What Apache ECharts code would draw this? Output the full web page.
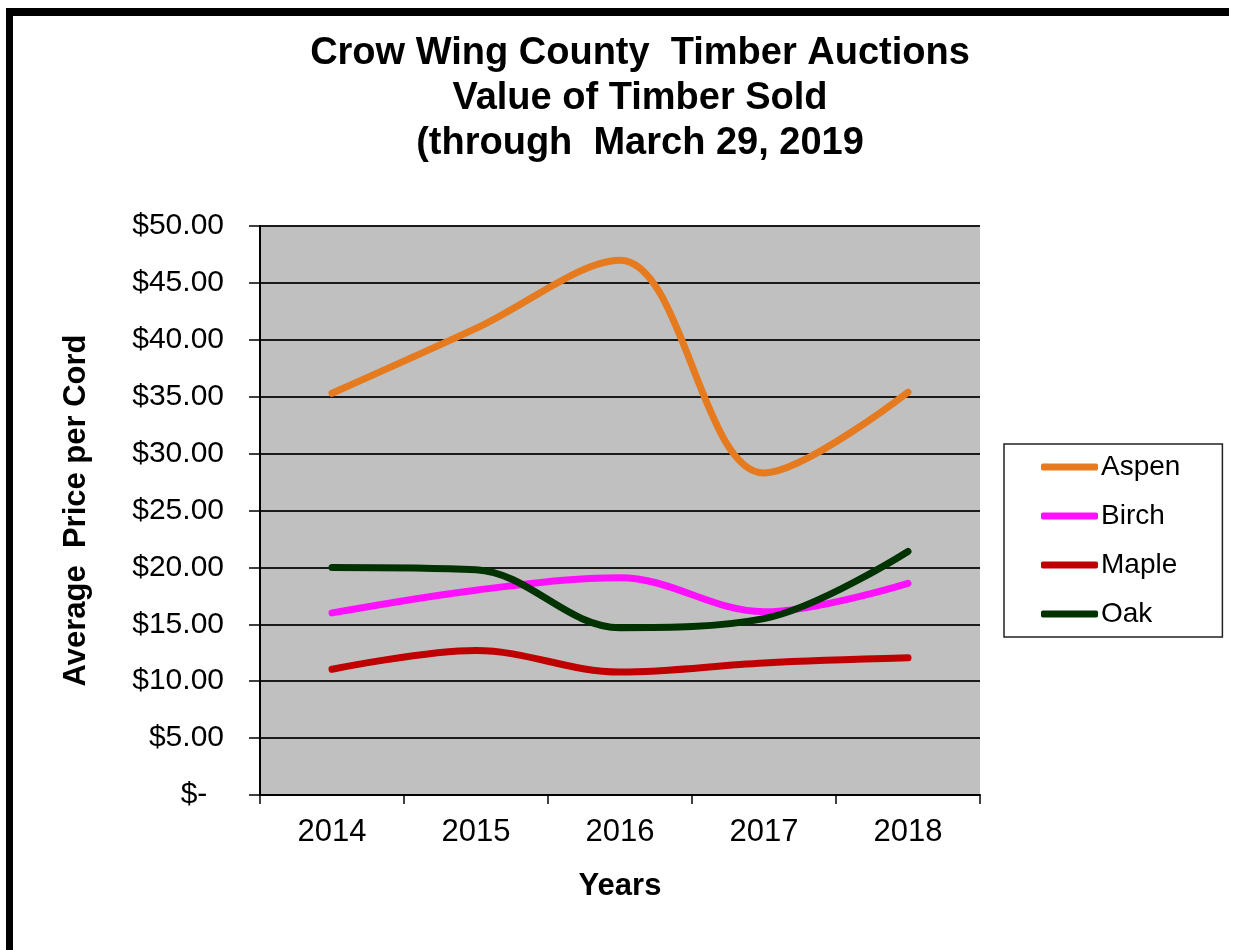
<!DOCTYPE html>
<html>
<head>
<meta charset="utf-8">
<script src="https://cdn.jsdelivr.net/npm/echarts@6/dist/echarts.min.js"></script>
<style>
  html, body { margin: 0; padding: 0; background: #ffffff; }
  #wrap { position: relative; width: 1233px; height: 950px; overflow: hidden; }
  #main { position: absolute; left: 0; top: 0; width: 1233px; height: 950px; }
  #frame { position: absolute; left: 6px; top: 8px; width: 1223px; height: 950px;
           border-top: 8px solid #000; border-left: 7px solid #000; pointer-events: none; box-sizing: border-box; }
</style>
</head>
<body>
<div id="wrap">
  <div id="main"></div>
  <div id="frame"></div>
</div>
<script>
const titleLines = ['Crow Wing County  Timber Auctions', 'Value of Timber Sold', '(through  March 29, 2019'];
const years = ['2014', '2015', '2016', '2017', '2018'];
const seriesNames = ['Aspen', 'Birch', 'Maple', 'Oak'];
const aspen = [35.3, 41.0, 47.0, 28.3, 35.4];
const birch = [16.0, 18.0, 19.1, 16.1, 18.6];
const maple = [11.05, 12.7, 10.8, 11.6, 12.05];
const oak = [20.0, 19.8, 14.7, 15.5, 21.4];
const seriesColors = ['#E57A1F', '#FF10FF', '#C00000', '#003300'];
const yAxisName = 'Average  Price per Cord';
const xAxisName = 'Years';

const FONT = "'Liberation Sans', Arial, sans-serif";
const chart = echarts.init(document.getElementById('main'), null, { renderer: 'canvas' });
const dataSets = [aspen, birch, maple, oak];

chart.setOption({
  animation: false,
  textStyle: { fontFamily: FONT, color: '#000' },
  title: {
    text: titleLines.join('\n'),
    left: 635, top: 26, textAlign: 'center',
    textStyle: { fontFamily: FONT, fontSize: 38, fontWeight: 'bold', lineHeight: 45, color: '#000' }
  },
  legend: {
    orient: 'vertical',
    left: 1004, top: 444,
    padding: [9, 42, 9, 37],
    itemGap: 21,
    itemWidth: 57, itemHeight: 7,
    icon: 'roundRect',
    backgroundColor: '#fff',
    borderColor: '#222', borderWidth: 1.5, borderRadius: 0,
    textStyle: { fontFamily: FONT, fontSize: 28, color: '#000', lineHeight: 28, padding: [0, 0, 0, -2] },
    data: seriesNames
  },
  grid: { left: 260, right: 253, top: 226, bottom: 155, show: true, backgroundColor: '#C0C0C0', borderWidth: 0 },
  xAxis: {
    type: 'category', data: years, boundaryGap: true,
    name: xAxisName, nameLocation: 'middle', nameGap: 76,
    nameTextStyle: { fontFamily: FONT, fontSize: 31, fontWeight: 'bold', color: '#000' },
    axisLine: { show: true, lineStyle: { color: '#000', width: 2 } },
    axisTick: { show: true, length: 9, lineStyle: { color: '#000', width: 1.5 } },
    axisLabel: { fontFamily: FONT, fontSize: 31, color: '#000', margin: 22 },
    splitLine: { show: false }
  },
  yAxis: {
    type: 'value', min: 0, max: 50, interval: 5,
    name: yAxisName, nameLocation: 'middle', nameGap: 168, nameRotate: 90,
    nameTextStyle: { fontFamily: FONT, fontSize: 31, fontWeight: 'bold', color: '#000' },
    axisLine: { show: true, lineStyle: { color: '#000', width: 2 } },
    axisTick: { show: true, length: 11, lineStyle: { color: '#000', width: 1.5 } },
    axisLabel: {
      fontFamily: FONT, fontSize: 30, color: '#000', margin: 36,
      formatter: v => v === 0 ? '$-  ' : '$' + v.toFixed(2)
    },
    splitLine: { show: true, lineStyle: { color: '#1a1a1a', width: 2 } }
  },
  series: seriesNames.map((n, i) => ({
    name: n, type: 'line', data: dataSets[i], smooth: 0.35,
    symbol: 'none', color: seriesColors[i],
    lineStyle: { width: 7, color: seriesColors[i], cap: 'round', join: 'round' }
  }))
});
</script>
</body>
</html>
